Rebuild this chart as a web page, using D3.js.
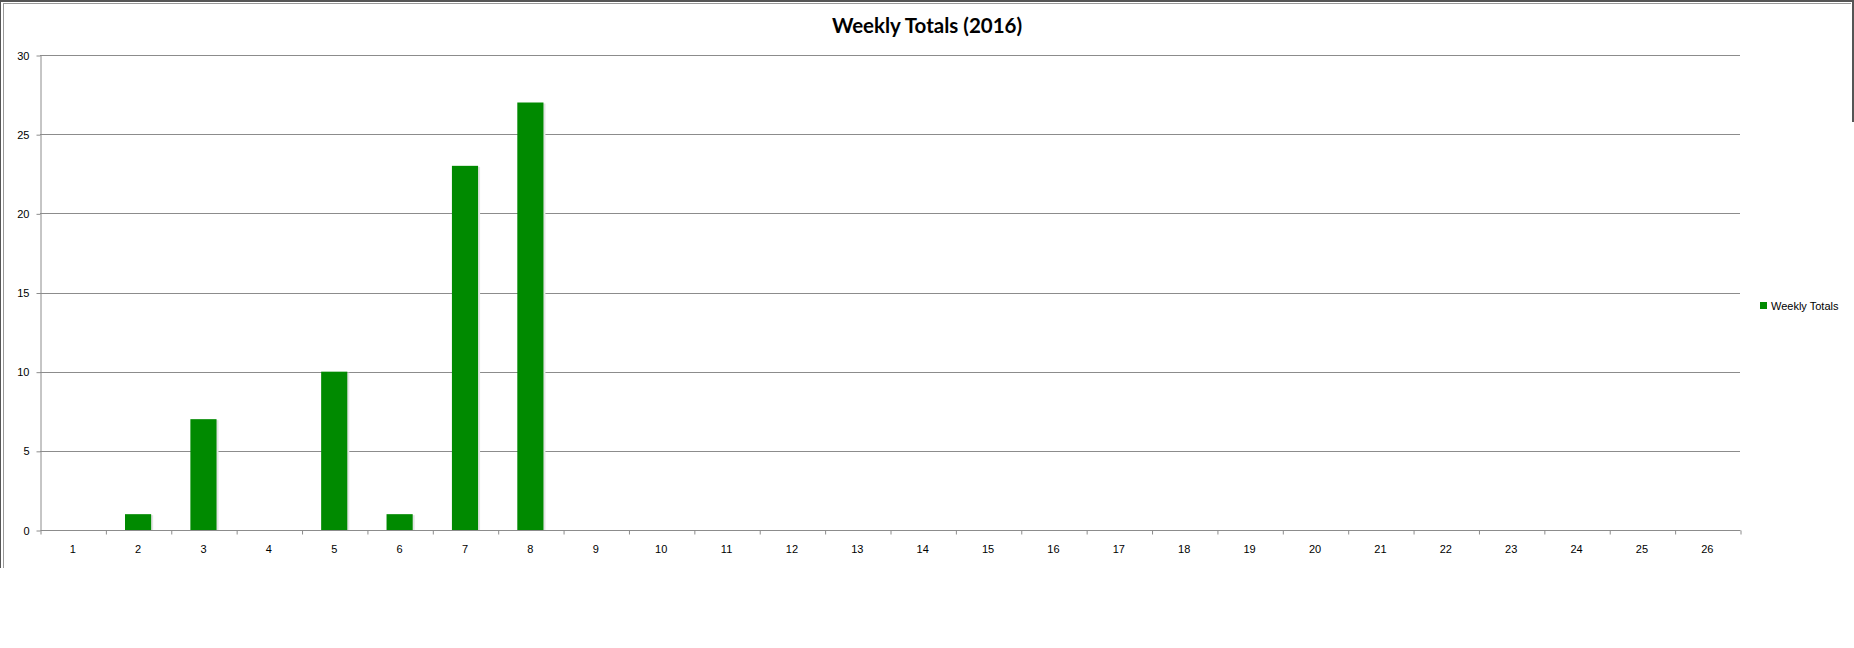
<!DOCTYPE html>
<html>
<head>
<meta charset="utf-8">
<script src="https://cdn.jsdelivr.net/npm/d3@7"></script>
<style>
    body { margin: 0; background: #fff; overflow: hidden; }
    svg text { font-family: "Liberation Sans", Arial, sans-serif; fill: #000; }
</style>
</head>
<body>
<div id="chart"></div>
<script>
//DATA
let weeks = d3.range(1, 27).map(String);
let weeklyTotals = [0, 1, 7, 0, 10, 1, 23, 27, 0, 0, 0, 0, 0, 0, 0, 0, 0, 0, 0, 0, 0, 0, 0, 0, 0, 0];
let yTicks = [0, 5, 10, 15, 20, 25, 30];
let chartTitle = 'Weekly Totals (2016)';
let seriesName = 'Weekly Totals';

//VARIABLES
let W = 1854, H = 648;
let plot = {left: 40, right: 1740, top: 55, bottom: 530};
let barColor = '#008a00';
let gridColor = '#8c8c8c';

let barData = weeklyTotals.map(function(v, i) {
    return {week: weeks[i], value: v};
});

let svg = d3.select('#chart').append('svg')
    .attr('width', W)
    .attr('height', H);

svg.append('rect').attr('width', W).attr('height', H).attr('fill', '#fff');

//Frame (outer dark, inner light)
svg.append('rect').attr('x', 0).attr('y', 0).attr('width', W).attr('height', 2).attr('fill', '#555');
svg.append('rect').attr('x', 0).attr('y', 0).attr('width', 1).attr('height', 568).attr('fill', '#555');
svg.append('rect').attr('x', 1852).attr('y', 0).attr('width', 2).attr('height', 122).attr('fill', '#555');
svg.append('line').attr('x1', 3).attr('x2', 1851).attr('y1', 3.5).attr('y2', 3.5).attr('stroke', '#999');
svg.append('line').attr('x1', 3.5).attr('x2', 3.5).attr('y1', 3).attr('y2', 568).attr('stroke', '#999');

//Scales
let x = d3.scaleBand()
    .domain(weeks)
    .range([plot.left, plot.right])
    .paddingInner(0.6)
    .paddingOuter(0.3);

let xEdges = d3.scaleLinear()
    .domain([0, weeks.length])
    .range([plot.left, plot.right]);

let y = d3.scaleLinear()
    .domain([0, 30])
    .range([plot.bottom, plot.top]);

//Gridlines
svg.append('g')
    .selectAll('line')
    .data(yTicks.filter(function(d) { return d > 0; }))
    .enter()
    .append('line')
    .attr('x1', plot.left)
    .attr('x2', plot.right)
    .attr('y1', function(d) { return Math.round(y(d)) + 0.5; })
    .attr('y2', function(d) { return Math.round(y(d)) + 0.5; })
    .attr('stroke', gridColor);

//Bar shadow (light strip on the right)
svg.append('g')
    .selectAll('rect')
    .data(barData.filter(function(d) { return d.value > 0; }))
    .enter()
    .append('rect')
    .attr('x', function(d) { return x(d.week) + 2; })
    .attr('y', function(d) { return y(d.value) + 1; })
    .attr('width', x.bandwidth())
    .attr('height', function(d) { return y(0) - y(d.value) - 1; })
    .attr('fill', '#e4e4e4');

//Bars
svg.append('g')
    .selectAll('rect')
    .data(barData)
    .enter()
    .append('rect')
    .attr('x', function(d) { return x(d.week); })
    .attr('y', function(d) { return y(d.value); })
    .attr('width', x.bandwidth())
    .attr('height', function(d) { return y(0) - y(d.value); })
    .attr('fill', barColor);

//Y Axis
let yAxis = svg.append('g')
    .attr('transform', 'translate(' + (plot.left + 0.5) + ',0.5)')
    .call(d3.axisLeft(y).tickValues(yTicks).tickSize(4).tickSizeOuter(0).tickPadding(7));
yAxis.select('.domain').attr('stroke', gridColor);
yAxis.selectAll('.tick line').attr('stroke', gridColor);
yAxis.selectAll('.tick text').style('font-size', '11px');

//X Axis - ticks at category edges
let xTickAxis = svg.append('g')
    .attr('transform', 'translate(0.5,' + (plot.bottom + 0.5) + ')')
    .call(d3.axisBottom(xEdges).ticks(weeks.length).tickSize(4).tickSizeOuter(4).tickFormat(''));
xTickAxis.select('.domain').attr('stroke', gridColor).attr('d', 'M' + plot.left + ',0H' + plot.right);
xTickAxis.selectAll('.tick line').attr('stroke', gridColor);

//X Axis - labels
let xLabelAxis = svg.append('g')
    .attr('transform', 'translate(0,' + plot.bottom + ')')
    .call(d3.axisBottom(x).tickSize(0).tickPadding(15));
xLabelAxis.select('.domain').remove();
xLabelAxis.selectAll('.tick text').style('font-size', '11px');

//Title
svg.append('text')
    .attr('x', W / 2)
    .attr('y', 33)
    .attr('text-anchor', 'middle')
    .style('font-family', 'Lato, sans-serif')
    .style('font-weight', 'bold')
    .style('font-size', '20.5px')
    .text(chartTitle);

//Legend
let legend = svg.append('g').attr('transform', 'translate(1760,302)');
legend.append('rect')
    .attr('width', 7)
    .attr('height', 7)
    .attr('fill', barColor);
legend.append('text')
    .attr('x', 11)
    .attr('y', 8)
    .style('font-size', '11px')
    .text(seriesName);
</script>
</body>
</html>
